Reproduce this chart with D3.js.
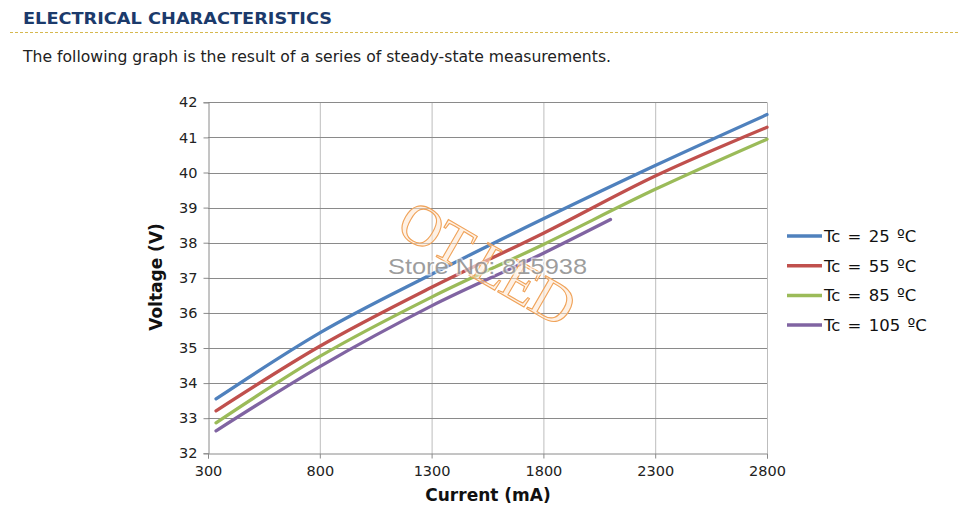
<!DOCTYPE html>
<html>
<head>
<meta charset="utf-8">
<script src="https://cdn.jsdelivr.net/npm/d3@7"></script>
<style>
  body { margin: 0; background: #fff; }
  svg { display: block; }
</style>
</head>
<body>
<div id="chart"></div>
<script>
// readings, current in mA, voltage in V
const series = ["Tc = 25 ºC", "Tc = 55 ºC", "Tc = 85 ºC", "Tc = 105 ºC"];
const colors = ["#4F81BD", "#C0504D", "#9BBB59", "#8064A2"];
const current = [336, 800, 1300, 1800, 2300, 2800];
const tc25 = [33.55, 35.43, 37.1, 38.68, 40.2, 41.65];
const tc55 = [33.21, 35.05, 36.73, 38.27, 39.9, 41.29];
const tc85 = [32.87, 34.76, 36.45, 37.95, 39.52, 40.95];
const tc105 = [32.64, 34.47, 36.2, 37.7, 38.66];
const current105 = [336, 800, 1300, 1800, 2100];
const xTicks = [300, 800, 1300, 1800, 2300, 2800];
const yTicks = [32, 33, 34, 35, 36, 37, 38, 39, 40, 41, 42];

const width = 975, height = 529;
const font = "'DejaVu Sans', Verdana, sans-serif";
const svg = d3.select("#chart").append("svg")
  .attr("width", width)
  .attr("height", height)
  .style("font-family", font);

// page header
svg.append("text")
  .attr("x", 23).attr("y", 24)
  .attr("font-size", 16).attr("font-weight", "bold")
  .attr("fill", "#1b3a6b")
  .attr("textLength", 309).attr("lengthAdjust", "spacingAndGlyphs")
  .text("ELECTRICAL CHARACTERISTICS");
svg.append("line")
  .attr("x1", 10).attr("x2", 960).attr("y1", 32.5).attr("y2", 32.5)
  .attr("stroke", "#d6b94f").attr("stroke-dasharray", "3,2");
svg.append("text")
  .attr("x", 23).attr("y", 62)
  .attr("font-size", 15).attr("fill", "#222")
  .attr("textLength", 588).attr("lengthAdjust", "spacingAndGlyphs")
  .text("The following graph is the result of a series of steady-state measurements.");

const x = d3.scaleLinear().domain([300, 2800]).range([208, 767]);
const y = d3.scaleLinear().domain([32, 42]).range([453.3, 102.3]);

// gridlines
svg.append("g").selectAll("line").data(xTicks.slice(1)).join("line")
  .attr("x1", d => x(d) + 0.5).attr("x2", d => x(d) + 0.5)
  .attr("y1", y(42)).attr("y2", y(32))
  .attr("stroke", "#bdbdbd");
svg.append("g").selectAll("line").data(yTicks.slice(1)).join("line")
  .attr("x1", x(300)).attr("x2", x(2800))
  .attr("y1", d => Math.round(y(d)) + 0.5).attr("y2", d => Math.round(y(d)) + 0.5)
  .attr("stroke", "#8a8a8a");

const xAxis = svg.append("g")
  .attr("transform", `translate(0,${Math.round(y(32)) + 0.5})`)
  .call(d3.axisBottom(x).tickValues(xTicks).tickSize(5).tickPadding(7).tickFormat(d3.format("d")));
const yAxis = svg.append("g")
  .attr("transform", `translate(${x(300) + 0.5},0)`)
  .call(d3.axisLeft(y).tickValues(yTicks).tickSize(5).tickPadding(6));
[xAxis, yAxis].forEach(a => {
  a.select(".domain").attr("stroke", "#8a8a8a");
  a.selectAll(".tick line").attr("stroke", "#8a8a8a");
  a.selectAll(".tick text").attr("font-size", 14.5).attr("fill", "#222")
    .style("font-family", font);
});

svg.append("text")
  .attr("x", 488).attr("y", 501).attr("text-anchor", "middle")
  .attr("font-size", 17).attr("font-weight", "bold").attr("fill", "#111")
  .text("Current (mA)");
svg.append("text")
  .attr("transform", "translate(162,277) rotate(-90)")
  .attr("text-anchor", "middle")
  .attr("font-size", 17).attr("font-weight", "bold").attr("fill", "#111")
  .text("Voltage (V)");

// curves
const line = d3.line()
  .x(d => x(d[0])).y(d => y(d[1]))
  .curve(d3.curveMonotoneX);
const curves = [
  d3.zip(current, tc25),
  d3.zip(current, tc55),
  d3.zip(current, tc85),
  d3.zip(current105, tc105)
];
svg.append("g").selectAll("path").data(curves).join("path")
  .attr("d", line)
  .attr("fill", "none")
  .attr("stroke", (d, i) => colors[i])
  .attr("stroke-width", 3.3)
  .attr("stroke-linecap", "round");

// watermark
const wm = svg.append("g").attr("pointer-events", "none");
wm.append("text")
  .attr("transform", "translate(394,232) rotate(30)")
  .attr("font-family", "'Liberation Serif', serif")
  .attr("font-size", 58)
  .attr("letter-spacing", -2)
  .attr("fill", "#fde6cf").attr("fill-opacity", 0.55)
  .attr("stroke", "#f0a35a").attr("stroke-width", 1.1)
  .text("OT LED");
wm.append("text")
  .attr("x", 388).attr("y", 274)
  .attr("font-family", "'Liberation Sans', Arial, sans-serif")
  .attr("font-size", 22.5)
  .attr("textLength", 199).attr("lengthAdjust", "spacingAndGlyphs")
  .attr("fill", "#8c8c8c").attr("fill-opacity", 0.85)
  .attr("stroke", "#fff").attr("stroke-width", 3).attr("stroke-opacity", 0.6)
  .attr("paint-order", "stroke")
  .text("Store No: 815938");

// legend
const legend = svg.append("g").selectAll("g").data(series).join("g")
  .attr("transform", (d, i) => `translate(787,${236 + i * 29.7})`);
legend.append("line")
  .attr("x1", 0).attr("x2", 35)
  .attr("stroke", (d, i) => colors[i])
  .attr("stroke-width", 3.5);
legend.append("text")
  .attr("x", 37).attr("y", 6)
  .attr("font-size", 16.5).attr("fill", "#111")
  .attr("word-spacing", 2)
  .text(d => d);
</script>
</body>
</html>
